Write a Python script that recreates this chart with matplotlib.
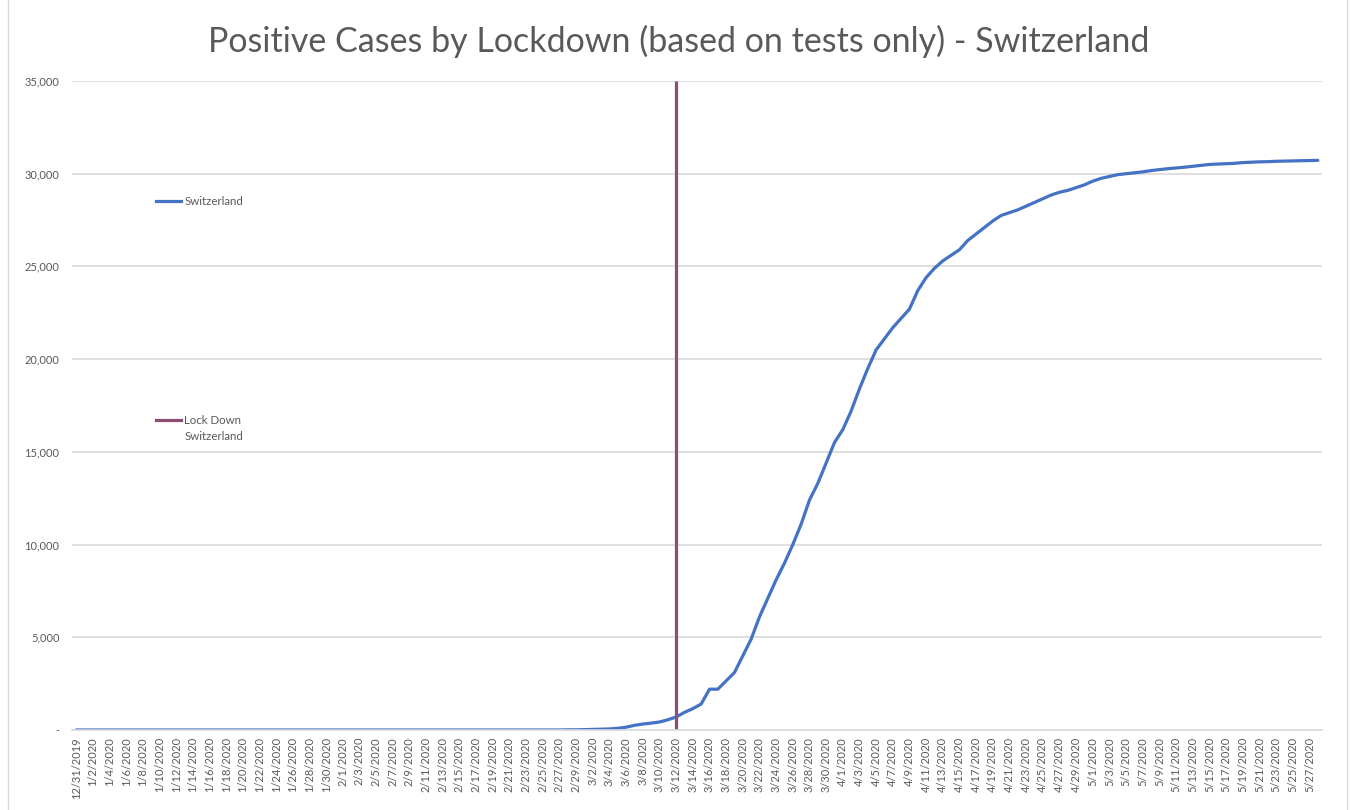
import pandas as pd
import matplotlib.pyplot as plt
from matplotlib.lines import Line2D

# Dates on the category axis (one per day)
dates = pd.date_range("2019-12-31", "2020-05-28", freq="D")
date_labels = [f"{d.month}/{d.day}/{d.year}" for d in dates]

# Cumulative positive cases
cases = [0] * 57 + [
    1, 1, 8, 8, 18, 27, 42, 56, 90, 150,
    250, 320, 370, 430, 550, 700, 950, 1150, 1400, 2200,
    2200, 2650, 3100, 4000, 4900, 6100, 7100, 8100, 9000, 10000,
    11100, 12400, 13300, 14400, 15500, 16200, 17200, 18400, 19500, 20500,
    21100, 21700, 22200, 22700, 23700, 24400, 24900, 25300, 25600, 25900,
    26400, 26750, 27100, 27450, 27750, 27900, 28050, 28250, 28450, 28650,
    28850, 29000, 29100, 29250, 29400, 29600, 29750, 29850, 29950, 30000,
    30050, 30100, 30170, 30220, 30270, 30310, 30350, 30400, 30450, 30500,
    30520, 30540, 30560, 30600, 30620, 30640, 30650, 30670, 30680, 30690,
    30700, 30710, 30720,
]

lockdown_date = "3/12/2020"
y_ticks = [0, 5000, 10000, 15000, 20000, 25000, 30000, 35000]

gray = "#595959"
grid_gray = "#d9d9d9"
blue = "#4472C4"
plum = "#8E4D72"

plt.rcParams["font.family"] = ["Lato", "DejaVu Sans"]

fig = plt.figure(figsize=(13.51, 8.1), dpi=100)
ax = fig.add_axes([0.0533, 0.0988, 0.9252, 0.8012])

x = list(range(len(date_labels)))
line, = ax.plot(x, cases, color=blue, linewidth=2.3, solid_capstyle="round")

lx = date_labels.index(lockdown_date)
ax.vlines(lx, 0, 35000, color=plum, linewidth=2.3)

ax.set_xlim(-0.5, len(date_labels) - 0.5)
ax.set_ylim(0, 35000)

ax.set_xticks(x[::2])
ax.set_xticklabels(date_labels[::2], rotation=90, fontsize=8, color=gray)
ax.set_yticks(y_ticks)
ax.set_yticklabels(["-"] + [f"{v:,}" for v in y_ticks[1:]], fontsize=8, color=gray)
ax.tick_params(axis="x", length=0, pad=5)
ax.tick_params(axis="y", length=0, pad=9)

ax.grid(axis="y", color=grid_gray, linewidth=1.2)
ax.set_axisbelow(True)
for s in ["top", "right", "left"]:
    ax.spines[s].set_visible(False)
ax.spines["bottom"].set_color(grid_gray)
ax.spines["bottom"].set_linewidth(1.2)

fig.text(0.502, 0.949, "Positive Cases by Lockdown (based on tests only) - Switzerland",
         fontsize=24.5, color=gray, ha="center", va="center")

# Legend entries spread down the left side, as in the original
h1 = Line2D([], [], color=blue, linewidth=2.3)
h2 = Line2D([], [], color=plum, linewidth=2.3)
leg1 = ax.legend([h1], ["Switzerland"], loc="center left",
                 bbox_to_anchor=(0.059, 0.815), frameon=False,
                 fontsize=8.3, labelcolor=gray, handlelength=2.2, handletextpad=0.25)
ax.add_artist(leg1)
leg2 = ax.legend([h2], ["Lock Down"], loc="center left",
                 bbox_to_anchor=(0.059, 0.4775), frameon=False,
                 fontsize=8.3, labelcolor=gray, handlelength=2.2, handletextpad=0.25)
fig.canvas.draw()
t = leg2.get_texts()[0]
bb = t.get_window_extent().transformed(fig.transFigure.inverted())
fig.text(bb.x0, bb.y0 - 0.0065, "Switzerland", fontsize=8.3, color=gray,
         ha="left", va="top")

# chart area border (left / right edges)
fig.add_artist(Line2D([8 / 1351, 8 / 1351], [0, 1], color=grid_gray, linewidth=1))
fig.add_artist(Line2D([1347 / 1351, 1347 / 1351], [0, 1], color=grid_gray, linewidth=1))

plt.savefig("out.png", dpi=100)
